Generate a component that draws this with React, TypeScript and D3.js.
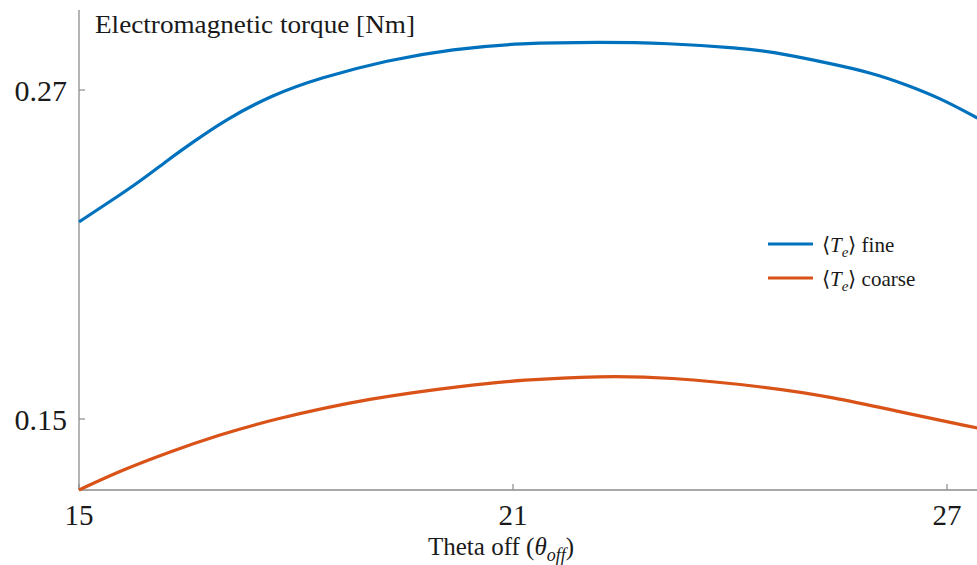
import React from "react";
import * as d3 from "d3";

const thetaFine = [15.0, 15.4, 15.87, 16.23, 16.56, 17.02, 17.67, 18.33, 19.26, 20.17, 21.1, 22.2, 23.13, 24.14, 24.59, 25.29, 25.98, 26.45, 26.9, 27.42];
const torqueFine = [0.2219, 0.2288, 0.2372, 0.2445, 0.2507, 0.2591, 0.2682, 0.2744, 0.2809, 0.285, 0.2871, 0.2875, 0.2871, 0.2853, 0.2839, 0.2802, 0.2762, 0.2718, 0.2671, 0.2598];

const thetaCoarse = [15.0, 15.57, 16.26, 16.95, 17.64, 19.02, 20.41, 21.1, 22.2, 23.13, 24.51, 25.42, 26.35, 27.42];
const torqueCoarse = [0.1241, 0.1311, 0.1381, 0.1443, 0.1496, 0.1577, 0.1624, 0.1642, 0.1657, 0.1653, 0.1617, 0.158, 0.1526, 0.1467];

const xTicks = [15, 21, 27];
const yTicks = [0.15, 0.27];

const BLUE = "#0072BD";
const ORANGE = "#D95319";
const AXIS = "#8c8c8c";
const FONT = "Liberation Serif, Times New Roman, serif";
const TXT = { fontFamily: FONT };

export default function App() {
  const x = d3.scaleLinear().domain([15, 27]).range([79, 947]);
  const y = d3.scaleLinear().domain([0.15, 0.27]).range([419, 90]);
  const yBottom = y(0.1241);
  const line = d3
    .line<[number, number]>()
    .x((d) => x(d[0]))
    .y((d) => y(d[1]))
    .curve(d3.curveBasis);
  const fine = thetaFine.map((t, i) => [t, torqueFine[i]] as [number, number]);
  const coarse = thetaCoarse.map((t, i) => [t, torqueCoarse[i]] as [number, number]);

  return (
    <svg
      width={977}
      height={565}
      style={{ position: "absolute", left: 0, top: 0, background: "#fff" }}
    >
      <rect x={0} y={0} width={977} height={565} fill="#fff" />
      {/* axes */}
      <line x1={79} x2={79} y1={10} y2={yBottom} stroke={AXIS} strokeWidth={1.3} />
      <line x1={79} x2={977} y1={yBottom} y2={yBottom} stroke={AXIS} strokeWidth={1.3} />
      {yTicks.map((t) => (
        <g key={"y" + t}>
          <line x1={79} x2={85} y1={y(t)} y2={y(t)} stroke={AXIS} strokeWidth={1.2} />
          <text x={67} y={y(t) + 11} fontSize={30} textAnchor="end" fill="#1a1a1a" style={TXT}>
            {t.toFixed(2)}
          </text>
        </g>
      ))}
      {xTicks.map((t) => (
        <g key={"x" + t}>
          <line x1={x(t)} x2={x(t)} y1={yBottom} y2={yBottom - 6} stroke={AXIS} strokeWidth={1.2} />
          <text x={x(t)} y={525} fontSize={29} textAnchor="middle" fill="#1a1a1a" style={TXT}>
            {t}
          </text>
        </g>
      ))}
      {/* curves */}
      <path d={line(fine) || ""} fill="none" stroke={BLUE} strokeWidth={3.2} />
      <path d={line(coarse) || ""} fill="none" stroke={ORANGE} strokeWidth={3.2} />
      {/* y title */}
      <text x={95} y={33} fontSize={26} fill="#1a1a1a" style={TXT} textLength={320} lengthAdjust="spacingAndGlyphs">
        Electromagnetic torque [Nm]
      </text>
      {/* x title */}
      <text x={428} y={555} fontSize={25} fill="#1a1a1a" style={TXT}>
        Theta off (<tspan fontStyle="italic">θ</tspan>
        <tspan fontStyle="italic" fontSize={18} dy={6}>off</tspan>
        <tspan dy={-6}>)</tspan>
      </text>
      {/* legend */}
      <line x1={768} x2={813} y1={244} y2={244} stroke={BLUE} strokeWidth={3.2} />
      <line x1={768} x2={813} y1={278} y2={278} stroke={ORANGE} strokeWidth={3.2} />
      <text x={822} y={252} fontSize={21} fill="#1a1a1a" style={TXT}>
        ⟨<tspan fontStyle="italic">T</tspan>
        <tspan fontStyle="italic" fontSize={15} dy={5}>e</tspan>
        <tspan dy={-5}>⟩ fine</tspan>
      </text>
      <text x={822} y={286} fontSize={21} fill="#1a1a1a" style={TXT}>
        ⟨<tspan fontStyle="italic">T</tspan>
        <tspan fontStyle="italic" fontSize={15} dy={5}>e</tspan>
        <tspan dy={-5}>⟩ coarse</tspan>
      </text>
    </svg>
  );
}
